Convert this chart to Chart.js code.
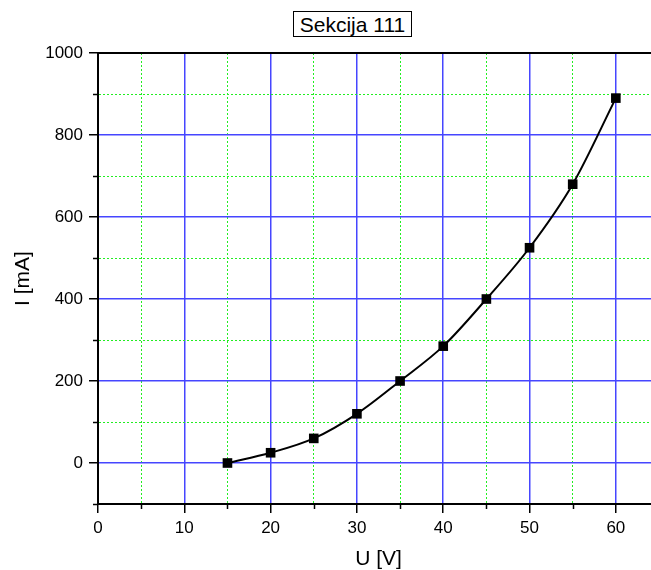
<!DOCTYPE html>
<html>
<head>
<meta charset="utf-8">
<script src="https://cdn.jsdelivr.net/npm/chart.js@4"></script>
<style>
  body { margin: 0; overflow: hidden; background: #fff; }
  #wrap { position: relative; width: 651px; height: 570px; overflow: hidden; }
  #chart { position: absolute; left: 0; top: 0; }
  #title {
    position: absolute; left: 293px; top: 11px; width: 117px; height: 24px;
    border: 1px solid #000; font: 21px 'Liberation Sans', Arial, sans-serif;
    line-height: 25px; text-align: center; color: #000; background: #fff;
  }
</style>
</head>
<body>
<div id="wrap">
  <canvas id="chart" width="670" height="570"></canvas>
  <div id="title">Sekcija 111</div>
</div>
<script>
const voltage = [15, 20, 25, 30, 35, 40, 45, 50, 55, 60];
const current = [0, 25, 60, 120, 200, 285, 400, 525, 680, 890];

const font = "'Liberation Sans', Arial, sans-serif";
const majorBlue = 'rgb(70, 70, 255)';
const minorGreen = '#22ee22';

// minor tick marks (short) + top frame line
const frame = {
  id: 'frame',
  afterDraw(chart) {
    const { ctx, chartArea: a, scales: { x, y } } = chart;
    ctx.save();
    ctx.strokeStyle = '#000';
    ctx.lineWidth = 2;
    ctx.beginPath();
    ctx.moveTo(a.left - 1, a.top);
    ctx.lineTo(a.right + 20, a.top);
    ctx.stroke();
    ctx.lineWidth = 1.5;
    x.ticks.forEach(t => {
      if (t.value % 10 !== 0) {
        const px = Math.round(x.getPixelForValue(t.value)) + 0.5;
        ctx.beginPath(); ctx.moveTo(px, a.bottom); ctx.lineTo(px, a.bottom + 5); ctx.stroke();
      }
    });
    y.ticks.forEach(t => {
      if (t.value % 200 !== 0) {
        const py = Math.round(y.getPixelForValue(t.value)) + 0.5;
        ctx.beginPath(); ctx.moveTo(a.left, py); ctx.lineTo(a.left - 5, py); ctx.stroke();
      }
    });
    ctx.restore();
  }
};

new Chart(document.getElementById('chart'), {
  type: 'line',
  data: {
    datasets: [{
      data: voltage.map((v, i) => ({ x: v, y: current[i] })),
      borderColor: '#000',
      borderWidth: 2,
      backgroundColor: '#000',
      pointStyle: 'rect',
      pointRadius: 6.8,
      pointBorderWidth: 0,
      cubicInterpolationMode: 'monotone',
      fill: false
    }]
  },
  options: {
    responsive: false,
    animation: false,
    layout: { padding: { left: 0, top: 53, right: 11, bottom: 0 } },
    plugins: { legend: { display: false }, tooltip: { enabled: false } },
    scales: {
      x: {
        type: 'linear',
        min: 0,
        max: 65,
        afterFit: s => { s.height = 66; },
        ticks: {
          stepSize: 5,
          autoSkip: false,
          maxRotation: 0,
          padding: 5,
          color: '#000',
          font: { family: font, size: 17 },
          callback: v => (v % 10 === 0 ? v : '')
        },
        grid: {
          color: c => (c.tick && c.tick.value % 10 === 0 ? majorBlue : minorGreen),
          lineWidth: c => (c.tick && c.tick.value % 10 === 0 ? 1.5 : 1),
          tickColor: c => (c.tick && c.tick.value % 10 === 0 ? '#000' : 'rgba(0,0,0,0)'),
          tickLength: 9,
          tickWidth: 1.5
        },
        border: {
          color: '#000',
          width: 2,
          dash: c => (c.tick && c.tick.value % 10 === 0 ? [] : [2, 2])
        },
        title: {
          display: true,
          text: 'U [V]',
          color: '#000',
          font: { family: font, size: 21, lineHeight: 1 },
          padding: { top: 0, bottom: 0 }
        }
      },
      y: {
        min: -100,
        max: 1000,
        afterFit: s => { s.width = 98; },
        ticks: {
          stepSize: 100,
          autoSkip: false,
          padding: 6,
          color: '#000',
          font: { family: font, size: 17 },
          callback: v => (v % 200 === 0 ? v : '')
        },
        grid: {
          color: c => (c.tick && c.tick.value % 200 === 0 ? majorBlue : minorGreen),
          lineWidth: c => (c.tick && c.tick.value % 200 === 0 ? 1.5 : 1),
          tickColor: c => (c.tick && c.tick.value % 200 === 0 ? '#000' : 'rgba(0,0,0,0)'),
          tickLength: 9,
          tickWidth: 1.5
        },
        border: {
          color: '#000',
          width: 2,
          dash: c => (c.tick && c.tick.value % 200 === 0 ? [] : [2, 2])
        },
        title: {
          display: true,
          text: 'I [mA]',
          color: '#000',
          font: { family: font, size: 21, lineHeight: 1 },
          padding: { top: 13, bottom: 0 }
        }
      }
    }
  },
  plugins: [frame]
});
</script>
</body>
</html>
